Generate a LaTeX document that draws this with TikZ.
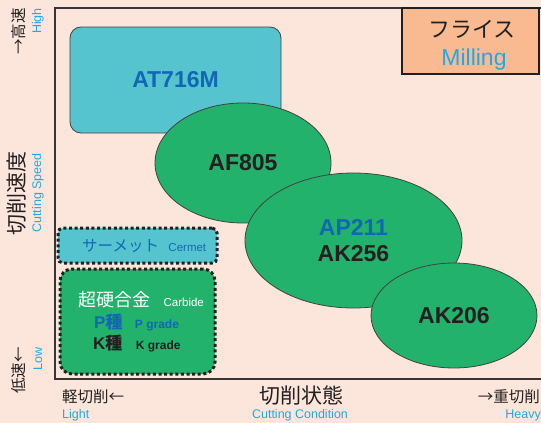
\documentclass[tikz,border=0pt]{standalone}
\usepackage{fontspec}
\setmainfont{Liberation Sans}
\newfontfamily\jp{Noto Sans CJK JP}
\usepackage{tikz}
\usetikzlibrary{positioning, shapes.geometric}
\definecolor{bgpeach}{HTML}{FCE6DC}
\definecolor{cermet}{HTML}{55C4CF}
\definecolor{carbide}{HTML}{22B26B}
\definecolor{milling}{HTML}{F9BA92}
\definecolor{gradeblue}{HTML}{1267B5}
\definecolor{labelblue}{HTML}{1FA9E6}
\definecolor{ink}{HTML}{231F20}
\tikzstyle{Oval} = [
ellipse, draw=ink!85, line width=0.8pt,
fill=carbide, inner sep=0pt, text=ink, align=center,
font=\bfseries\fontsize{23}{25.5}\selectfont]
\tikzstyle{Dotted} = [
draw=ink, line width=3pt,
dash pattern=on 3pt off 2.6pt]
\tikzstyle{Grade} = [inner sep=0pt, font=\bfseries\fontsize{17}{18}\selectfont]
\tikzstyle{Small} = [inner sep=0pt, font=\bfseries\fontsize{12}{13}\selectfont]
\tikzstyle{AxisJa} = [inner sep=0pt, text=ink, font=\jp\fontsize{15.5}{16}\selectfont]
\tikzstyle{AxisEn} = [inner sep=0pt, text=labelblue, font=\fontsize{12.5}{13}\selectfont]
\tikzstyle{Title} = [inner sep=0pt, text=ink, font=\jp\fontsize{21}{22}\selectfont]

\begin{document}
\begin{tikzpicture}[x=1pt, y=-1pt]
    \clip (0,0) rectangle (541,423);
    \fill[bgpeach] (0,0) rectangle (541,423);
    \draw[ink!90, line width=2pt] (560,8) -- (55,8) -- (55,379) -- (560,379);
    \node (1) [draw=ink!85, line width=0.8pt, fill=cermet, rounded corners=11pt,
        minimum width=211pt, minimum height=106pt, text=gradeblue,
        font=\bfseries\fontsize{23}{25.5}\selectfont] at (175.5,80) {AT716M};
    \node (2) [Oval, minimum width=176pt, minimum height=120pt] at (243,163) {AF805};
    \node (3) [Oval, minimum width=217pt, minimum height=135pt] at (353.5,240.5)
        {\textcolor{gradeblue}{AP211}\\AK256};
    \node (4) [Oval, minimum width=166pt, minimum height=105pt] at (454,315.5) {AK206};
    \node (5) [Dotted, fill=cermet, rounded corners=5pt,
        minimum width=159pt, minimum height=35pt] at (137.5,245.5) {};
    \node (6) [anchor=west, inner sep=0pt, text=gradeblue,
        font=\jp\fontsize{15.5}{16}\selectfont] at (82,246) {サーメット};
    \node (7) [base right=9pt of 6, inner sep=0pt, text=gradeblue,
        font=\fontsize{11.5}{12}\selectfont] {Cermet};
    \node (8) [Dotted, fill=carbide, rounded corners=12pt,
        minimum width=155pt, minimum height=105pt] at (137.5,321.5) {};
    \node (9) [anchor=west, inner sep=0pt, text=white,
        font=\jp\fontsize{18}{19}\selectfont] at (78,300) {超硬合金};
    \node (10) [base right=13pt of 9, inner sep=0pt, text=white,
        font=\fontsize{11.5}{12}\selectfont] {Carbide};
    \node (11) [Grade, anchor=west, text=gradeblue] at (94,322) {P{\jp 種}};
    \node (12) [Small, base right=12pt of 11, text=gradeblue] {P grade};
    \node (13) [Grade, anchor=west, text=ink] at (93,343) {K{\jp 種}};
    \node (14) [Small, base right=13pt of 13, text=ink] {K grade};
    \node (15) [draw=ink, line width=2.5pt, fill=milling,
        minimum width=137pt, minimum height=66pt] at (470.5,41) {};
    \node (16) [inner sep=0pt, text=ink, font=\jp\fontsize{22}{24}\selectfont]
        at (472,29) {フライス};
    \node (17) [inner sep=0pt, text=labelblue, font=\fontsize{23}{24}\selectfont]
        at (474,60) {Milling};
    \node (18) [AxisJa, rotate=90, anchor=east] at (18.5,8) {→高速};
    \node (19) [AxisEn, rotate=90, anchor=east] at (38,8) {High};
    \node (20) [Title, rotate=90] at (16.5,193) {切削速度};
    \node (21) [AxisEn, rotate=90] at (38,193) {Cutting Speed};
    \node (22) [AxisJa, rotate=90, anchor=east] at (18.5,347) {低速←};
    \node (23) [AxisEn, rotate=90, anchor=east] at (38,347) {Low};
    \node (24) [AxisJa, anchor=west] at (62,397) {軽切削←};
    \node (25) [AxisEn, anchor=west] at (62,415.5) {Light};
    \node (26) [Title] at (301,396) {切削状態};
    \node (27) [AxisEn] at (300,415.5) {Cutting Condition};
    \node (28) [AxisJa, anchor=east] at (540,397) {→重切削};
    \node (29) [AxisEn, anchor=east] at (541,415.5) {Heavy};
\end{tikzpicture}
\end{document}
